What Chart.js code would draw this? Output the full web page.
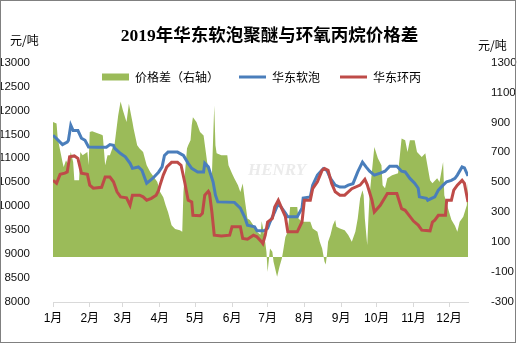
<!DOCTYPE html>
<html>
<head>
<meta charset="utf-8">
<script src="https://cdn.jsdelivr.net/npm/chart.js@4.4.1/dist/chart.umd.min.js"></script>
<style>
  html, body { margin: 0; padding: 0; background: #fff; }
  canvas { display: block; }
</style>
</head>
<body>
<canvas id="spreadChart" width="517" height="344"></canvas>
<script>
// 月份刻度 (1月1日起的天数)
const monthLabels = ['1月', '2月', '3月', '4月', '5月', '6月', '7月', '8月', '9月', '10月', '11月', '12月'];
const monthStarts = [0, 31, 59, 90, 120, 151, 181, 212, 243, 273, 304, 334];

// 华东软泡 [天, 元/吨]
const softFoam = [
    [0, 11480], [3, 11410], [8, 11285], [12, 11340], [13, 11375], [15, 11690], [17, 11580], [21, 11580],
    [24, 11420], [27, 11375], [30, 11235], [37, 11230], [45, 11230], [48, 11285], [51, 11270], [52, 11210],
    [57, 11100], [61, 11030], [65, 10895], [67, 10790], [72, 10820], [75, 10750], [79, 10480], [82, 10540],
    [84, 10580], [89, 10710], [92, 10820], [94, 11060], [97, 11130], [105, 11130], [110, 11060], [114, 10895],
    [117, 10790], [122, 10715], [127, 10715], [128, 10895], [131, 10820], [135, 10510], [137, 10230], [139, 10090],
    [153, 10080], [158, 9960], [162, 9750], [164, 9605], [170, 9570], [172, 9485], [178, 9485], [181, 9540],
    [183, 9670], [187, 9880], [190, 10060], [193, 9960], [196, 9855], [198, 9780], [206, 9780], [210, 9960],
    [211, 10170], [217, 10195], [219, 10440], [223, 10650], [228, 10785], [231, 10750], [234, 10580], [238, 10440],
    [242, 10400], [246, 10400], [249, 10440], [253, 10470], [257, 10715], [261, 10920], [264, 10820], [267, 10730],
    [271, 10650], [276, 10690], [280, 10730], [284, 10835], [290, 10835], [294, 10730], [297, 10715], [301, 10580],
    [305, 10480], [308, 10375], [309, 10195], [315, 10165], [316, 10125], [322, 10195], [325, 10335], [329, 10440],
    [332, 10510], [336, 10540], [339, 10580], [341, 10650], [345, 10820], [347, 10800], [350, 10630]
];

// 华东环丙 [天, 元/吨]
const propyleneOxide = [
    [0, 10540], [3, 10480], [6, 10665], [10, 10690], [12, 10715], [14, 11030], [18, 11050], [21, 11000],
    [24, 10690], [29, 10665], [31, 10440], [34, 10375], [41, 10395], [44, 10610], [48, 10610], [51, 10510],
    [54, 10300], [57, 10195], [62, 10175], [65, 10020], [67, 10230], [73, 10230], [76, 10195], [79, 10125],
    [83, 10165], [87, 10230], [89, 10330], [90, 10420], [93, 10650], [96, 10820], [100, 10915], [105, 10915],
    [108, 10855], [111, 10510], [114, 10125], [117, 10090], [118, 9810], [124, 9800], [126, 9850], [128, 10230],
    [131, 10310], [132, 10265], [134, 9880], [136, 9395], [142, 9380], [149, 9395], [151, 9570], [158, 9570],
    [160, 9325], [164, 9310], [169, 9395], [172, 9360], [176, 9255], [177, 9220], [179, 9395], [181, 9670],
    [185, 9745], [187, 9985], [190, 10125], [193, 9950], [196, 9780], [198, 9465], [206, 9465], [210, 9670],
    [212, 10125], [217, 10125], [219, 10365], [223, 10510], [227, 10750], [229, 10785], [232, 10750], [235, 10475],
    [238, 10300], [242, 10230], [246, 10230], [252, 10365], [259, 10440], [263, 10560], [265, 10450], [269, 10125],
    [271, 9880], [276, 10020], [282, 10265], [290, 10265], [294, 9950], [297, 9915], [299, 9850], [304, 9690],
    [308, 9605], [311, 9500], [318, 9485], [320, 9670], [322, 9710], [325, 9810], [331, 9810], [332, 10125],
    [336, 10125], [338, 10335], [341, 10440], [345, 10540], [347, 10475], [350, 10090]
];

// 价格差 (右轴) [天, 元/吨]
const priceSpread = [
    [0, 902], [3, 893], [4, 793], [8, 635], [9, 602], [11, 647], [13, 613], [15, 702], [17, 635], [18, 513],
    [22, 513], [23, 702], [25, 680], [29, 702], [30, 613], [31, 835], [33, 840], [41, 818], [42, 813], [44, 613],
    [46, 680], [48, 680], [50, 725], [52, 758], [55, 947], [57, 1040], [59, 980], [62, 902], [64, 1025], [67, 902],
    [68, 858], [71, 747], [73, 725], [76, 702], [79, 613], [82, 569], [84, 547], [88, 502], [90, 440], [93, 400],
    [95, 347], [97, 302], [100, 213], [103, 187], [107, 180], [109, 169], [110, 435], [113, 725], [114, 747], [116, 780],
    [117, 880], [118, 935], [121, 902], [124, 835], [127, 813], [130, 635], [132, 569], [134, 547], [136, 1013], [137, 747],
    [138, 693], [142, 680], [147, 680], [148, 613], [151, 558], [153, 525], [156, 480], [158, 435], [160, 491], [162, 369],
    [164, 258], [166, 247], [169, 213], [172, 169], [175, 150], [176, 240], [177, 200], [179, 100], [180, 35], [181, -100],
    [183, 58], [185, 35], [186, -31], [189, -131], [191, -65], [193, -9], [194, 35], [196, 135], [198, 169], [200, 335],
    [206, 335], [207, 258], [210, 236], [217, 236], [219, 191], [223, 169], [225, 102], [227, 58], [229, -31], [230, -50],
    [231, 13], [232, 102], [234, 147], [236, 213], [238, 247], [239, 202], [242, 191], [246, 180], [249, 147], [252, 102],
    [255, 169], [257, 258], [259, 391], [261, 447], [262, 413], [263, 258], [265, 80], [266, 260], [267, 413], [271, 735],
    [274, 660], [277, 613], [278, 480], [280, 460], [282, 527], [286, 547], [291, 560], [294, 793], [297, 780], [299, 702],
    [301, 780], [305, 780], [307, 702], [311, 669], [314, 693], [315, 647], [318, 513], [320, 493], [324, 527], [326, 502],
    [329, 635], [330, 413], [333, 330], [336, 250], [339, 210], [341, 169], [343, 236], [346, 269], [349, 347], [350, 500]
];

const CJK = '"Noto Sans CJK SC", sans-serif';
const NUM = '"Liberation Sans", "Noto Sans CJK SC", sans-serif';

// 图例放进绘图区内 (不占布局高度), 标题稍向右移
const legendInside = {
    id: 'legendInside',
    beforeLayout(chart) {
        const lg = chart.legend;
        if (lg && !lg._patched) {
            const fit = lg.fit;
            lg.fit = function () {
                fit.call(this);
                this._realHeight = this.height;
                this.height = 0;
            };
            lg._patched = true;
        }
    },
    afterLayout(chart) {
        const lg = chart.legend;
        lg.top = 51;
        lg.bottom = 51 + (lg._realHeight || 30);
        lg.left = 82;
        lg.right = 517;
        const tb = chart.titleBlock;
        if (tb) {
            tb.left += 11;
            tb.right += 11;
        }
    }
};

// 背景、单位、水印、边框
const decorations = {
    id: 'decorations',
    beforeDraw(chart) {
        const ctx = chart.ctx;
        ctx.save();
        ctx.fillStyle = '#fff';
        ctx.fillRect(0, 0, chart.width, chart.height);
        ctx.restore();
    },
    afterDatasetsDraw(chart) {
        const ctx = chart.ctx;
        ctx.save();
        ctx.font = 'italic bold 17px "Liberation Serif"';
        ctx.fillStyle = 'rgba(215, 215, 215, 0.5)';
        ctx.textBaseline = 'middle';
        ctx.fillText('HENRY', 248, 171);
        ctx.restore();
    },
    afterDraw(chart) {
        const ctx = chart.ctx;
        ctx.save();
        ctx.font = '12px ' + CJK;
        ctx.fillStyle = '#000';
        ctx.textBaseline = 'middle';
        ctx.fillText('元/吨', 10, 40);
        ctx.fillText('元/吨', 478, 45);
        ctx.strokeStyle = '#808080';
        ctx.lineWidth = 1;
        ctx.strokeRect(0.5, 0.5, 515, 342);
        ctx.restore();
    }
};

const ctx = document.getElementById('spreadChart').getContext('2d');
new Chart(ctx, {
    type: 'line',
    data: {
        datasets: [
            {
                label: '价格差（右轴）',
                data: priceSpread,
                yAxisID: 'y1',
                fill: 'origin',
                backgroundColor: '#9bbb59',
                borderColor: '#9bbb59',
                borderWidth: 0,
                pointRadius: 0,
                pointStyle: 'rect',
                pointBackgroundColor: '#9bbb59',
                pointBorderWidth: 0,
                order: 3
            },
            {
                label: '华东软泡',
                data: softFoam,
                yAxisID: 'y',
                borderColor: '#4a7ebb',
                backgroundColor: '#4a7ebb',
                borderWidth: 3,
                pointRadius: 0,
                pointStyle: 'line',
                pointBorderWidth: 3,
                order: 2
            },
            {
                label: '华东环丙',
                data: propyleneOxide,
                yAxisID: 'y',
                borderColor: '#be4b48',
                backgroundColor: '#be4b48',
                borderWidth: 3,
                pointRadius: 0,
                pointStyle: 'line',
                pointBorderWidth: 3,
                order: 1
            }
        ]
    },
    options: {
        responsive: false,
        animation: false,
        events: [],
        layout: { padding: { left: 0, right: 0, top: 0, bottom: 0 } },
        plugins: {
            title: {
                display: true,
                text: '2019年华东软泡聚醚与环氧丙烷价格差',
                color: '#000',
                font: { family: '"Liberation Serif", "Noto Sans CJK SC", serif', size: 17.5, weight: 'bold' },
                padding: { top: 26, bottom: 15.5 }
            },
            legend: {
                display: true,
                position: 'top',
                align: 'start',
                labels: {
                    usePointStyle: true,
                    pointStyleWidth: 27,
                    boxHeight: 7,
                    padding: 20,
                    color: '#000',
                    font: { family: CJK, size: 12 },
                    sort: (a, b) => a.datasetIndex - b.datasetIndex
                }
            },
            tooltip: { enabled: false }
        },
        scales: {
            x: {
                type: 'linear',
                min: 0,
                max: 350,
                afterBuildTicks: (scale) => {
                    scale.ticks = monthStarts.map(v => ({ value: v }));
                },
                afterFit: (scale) => { scale.height = 42; },
                grid: { drawOnChartArea: false, drawTicks: true, tickLength: 5, color: '#d9d9d9' },
                border: { display: true, color: '#d9d9d9' },
                ticks: {
                    autoSkip: false,
                    maxRotation: 0,
                    padding: 4,
                    color: '#000',
                    font: { family: NUM, size: 12 },
                    callback: (value, index) => monthLabels[index]
                }
            },
            y: {
                position: 'left',
                min: 8000,
                max: 13000,
                afterFit: (scale) => { scale.width = 53; },
                grid: { display: false },
                border: { display: false },
                ticks: {
                    stepSize: 500,
                    padding: 15,
                    color: '#111',
                    font: { family: NUM, size: 11.5 },
                    callback: (value) => String(value)
                }
            },
            y1: {
                position: 'right',
                min: -300,
                max: 1300,
                afterFit: (scale) => { scale.width = 49; },
                grid: { display: false },
                border: { display: false },
                ticks: {
                    stepSize: 200,
                    padding: 15,
                    color: '#111',
                    font: { family: NUM, size: 11.5 },
                    callback: (value) => String(value)
                }
            }
        }
    },
    plugins: [legendInside, decorations]
});
</script>
</body>
</html>
